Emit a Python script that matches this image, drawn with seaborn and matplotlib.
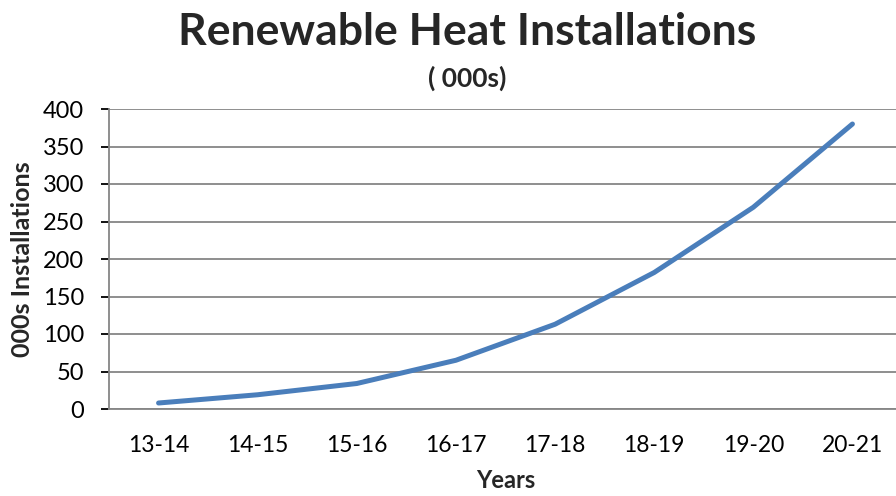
import matplotlib
matplotlib.use('Agg')
import matplotlib.pyplot as plt
import seaborn as sns
import pandas as pd
import numpy as np

# --- chart data ---
years = ['13-14', '14-15', '15-16', '16-17', '17-18', '18-19', '19-20', '20-21']
installs = [8, 19, 34, 65, 113, 182, 269, 380]

df = pd.DataFrame({'year': years, 'installs': installs})

sns.set_theme(style="white")
plt.rcParams['font.family'] = ['Lato', 'DejaVu Sans']

grey = '#868686'
fig = plt.figure(figsize=(8.96, 4.96), dpi=100)
ax = fig.add_axes([109 / 896, 1 - 409 / 496, (902 - 109) / 896, 300 / 496])

sns.lineplot(data=df, x='year', y='installs', ax=ax, color='#4A7EBB', linewidth=3.6,
             sort=False, solid_capstyle='round')

ax.set_ylim(0, 400)
ax.set_xlim(-0.5, 7.5)
ax.set_yticks(np.arange(0, 401, 50))
ax.grid(axis='y', color=grey, linewidth=1.3)
ax.set_axisbelow(True)

for s in ['top', 'right']:
    ax.spines[s].set_visible(False)
for s in ['left', 'bottom']:
    ax.spines[s].set_color(grey)
    ax.spines[s].set_linewidth(1.3)

# category ticks sit between the labels
ax.set_xticks(np.arange(-0.5, 7.6, 1), minor=True)
ax.tick_params(axis='x', which='major', length=0, pad=19, labelsize=16.5, colors='black')
ax.tick_params(axis='x', which='minor', length=6, width=1.3, color=grey, direction='out')
ax.tick_params(axis='y', which='major', length=6, width=1.3, direction='out',
               left=True, labelsize=17, colors='black', pad=12)
for t in ax.get_yticklines():
    t.set_color(grey)

ax.set_xlabel('Years', fontsize=17, fontweight='bold', labelpad=9)
ax.set_ylabel('000s Installations', fontsize=18, fontweight='bold', labelpad=6)

fig.text(467 / 896, 1 - 32 / 496, 'Renewable Heat Installations', ha='center', va='center',
         fontsize=32, fontweight='bold')
fig.text(467 / 896, 1 - 78 / 496, '( 000s)', ha='center', va='center',
         fontsize=19, fontweight='bold')

fig.savefig('out.png', dpi=100, facecolor='white')
